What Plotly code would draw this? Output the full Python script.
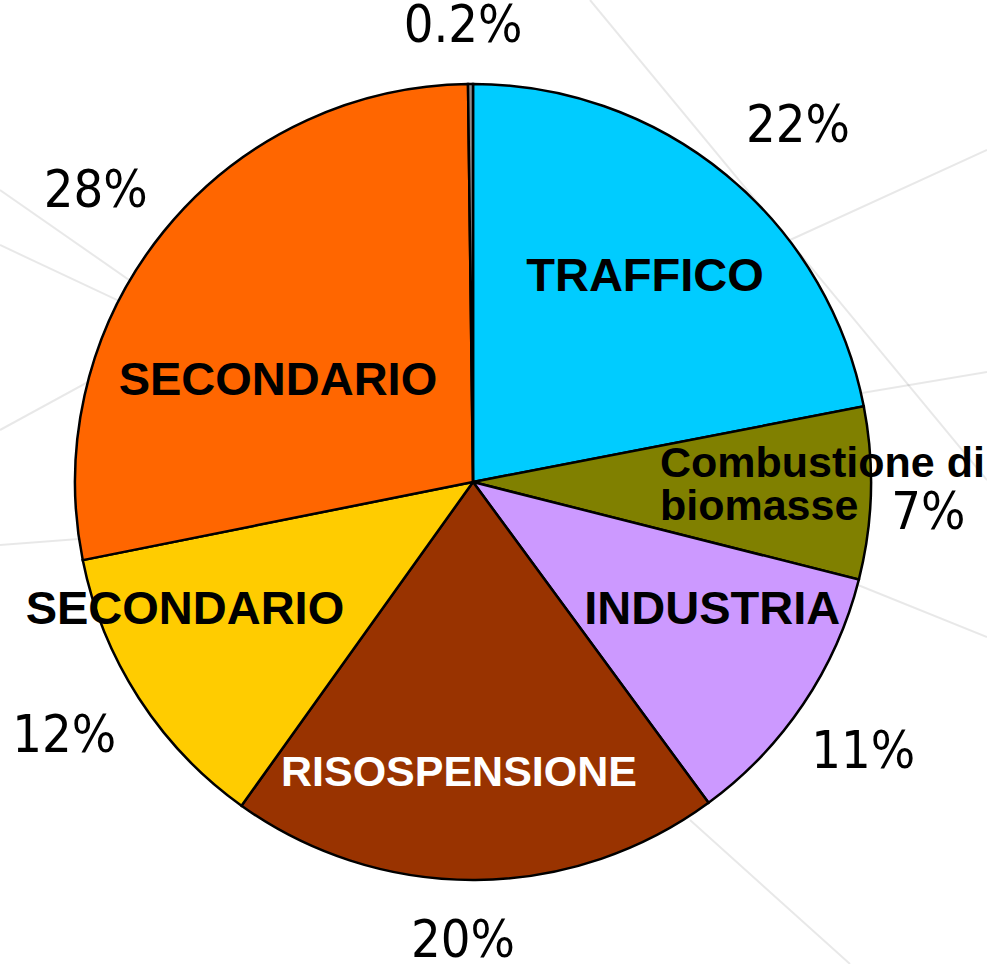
import plotly.graph_objects as go

# ---- data ----
slice_names = ["TRAFFICO", "Combustione di biomasse", "INDUSTRIA", "RISOSPENSIONE",
               "SECONDARIO", "SECONDARIO", ""]
values = [22, 7, 11, 20, 12, 28, 0.2]
pct_labels = ["22%", "7%", "11%", "20%", "12%", "28%", "0.2%"]
colors = ["#00CCFF", "#808000", "#CC99FF", "#993300", "#FFCC00", "#FF6600", "#8C8C8C"]

# ---- label styling (radius in pie radii, angle offset from slice middle) ----
name_colors = ["black", "black", "black", "white", "black", "black", "black"]
name_sizes = [47, 43, 47, 43, 47, 47, 10]
name_r = [0.668, 0.47, 0.684, 0.737, 0.794, 0.5495, 0.0]
name_dtheta = [0.8, 0.0, -5.45, 3.1, 8.6, -12.1, 0.0]
pct_r = [1.121, 1.054, 1.092, 1.161, 1.105, 1.091, 1.138]
pct_dtheta = [-1.8, 3.0, 4.95, 1.6, -2.9, 2.5, -0.9]
pct_pos = ["middle right", "middle right", "middle right", "middle center",
           "middle left", "middle left", "middle center"]

W, H = 987, 964
cx, cy, R = 473, 482, 398      # pie centre / radius in px
RP = 473                       # radius of the polar frame (room for outer labels)

total = sum(values)
spans = [v / total * 360 for v in values]
starts = [sum(spans[:i]) for i in range(len(spans))]
mids = [s + w / 2 for s, w in zip(starts, spans)]

fig = go.Figure()

# slices
fig.add_trace(go.Barpolar(
    r=[1] * len(values), theta=mids, width=spans,
    marker=dict(color=colors, line=dict(color="black", width=2.5)),
    showlegend=False, hoverinfo="skip",
))

# names inside slices (two-line label handled as two stacked lines)
single = [i for i, n in enumerate(slice_names) if n and " di " not in n]
fig.add_trace(go.Scatterpolar(
    r=[name_r[i] for i in single],
    theta=[mids[i] + name_dtheta[i] for i in single],
    mode="text", text=[slice_names[i] for i in single],
    textposition="middle center",
    textfont=dict(family="Liberation Sans, Arial, sans-serif",
                  size=[name_sizes[i] for i in single],
                  color=[name_colors[i] for i in single], weight="bold"),
    cliponaxis=False, showlegend=False, hoverinfo="skip",
))
bi = 1
first, second = slice_names[bi].rsplit(" ", 1)
fig.add_trace(go.Scatterpolar(
    r=[name_r[bi], name_r[bi]],
    theta=[mids[bi] + name_dtheta[bi]] * 2,
    mode="text", text=[first, second],
    textposition=["top right", "bottom right"],
    textfont=dict(family="Liberation Sans, Arial, sans-serif",
                  size=name_sizes[bi], color=name_colors[bi], weight="bold"),
    cliponaxis=False, showlegend=False, hoverinfo="skip",
))

# percentages outside
fig.add_trace(go.Scatterpolar(
    r=pct_r, theta=[m + d for m, d in zip(mids, pct_dtheta)],
    mode="text", text=pct_labels, textposition=pct_pos,
    textfont=dict(family="DejaVu Sans Condensed, DejaVu Sans, sans-serif",
                  size=52, color="black"),
    cliponaxis=False, showlegend=False, hoverinfo="skip",
))

# faint decorative background lines (paper px)
bg_lines = [
    (0, 190, 330, 420), (0, 245, 330, 400), (0, 430, 330, 250),
    (0, 545, 330, 520), (590, 0, 987, 480), (790, 240, 987, 150),
    (850, 395, 987, 372), (853, 583, 987, 637), (690, 820, 850, 964),
]
for x0, y0, x1, y1 in bg_lines:
    fig.add_shape(type="line", xref="paper", yref="paper",
                  x0=x0 / W, y0=1 - y0 / H, x1=x1 / W, y1=1 - y1 / H,
                  line=dict(color="rgba(0,0,0,0.09)", width=2), layer="below")

fig.update_layout(
    width=W, height=H, margin=dict(l=0, r=0, t=0, b=0, pad=0),
    paper_bgcolor="white", plot_bgcolor="white",
    polar=dict(
        domain=dict(x=[(cx - RP) / W, (cx + RP) / W],
                    y=[(H - cy - RP) / H, (H - cy + RP) / H]),
        bgcolor="rgba(0,0,0,0)", hole=0,
        angularaxis=dict(rotation=90, direction="clockwise", visible=False,
                         showgrid=False, showline=False, showticklabels=False, ticks=""),
        radialaxis=dict(range=[0, RP / R], visible=False, showgrid=False,
                        showline=False, showticklabels=False, ticks=""),
    ),
)

fig.write_html("out.html",
               config={"displayModeBar": False},
               post_script="document.body.style.margin='0';"
                           "document.body.style.overflow='hidden';")
